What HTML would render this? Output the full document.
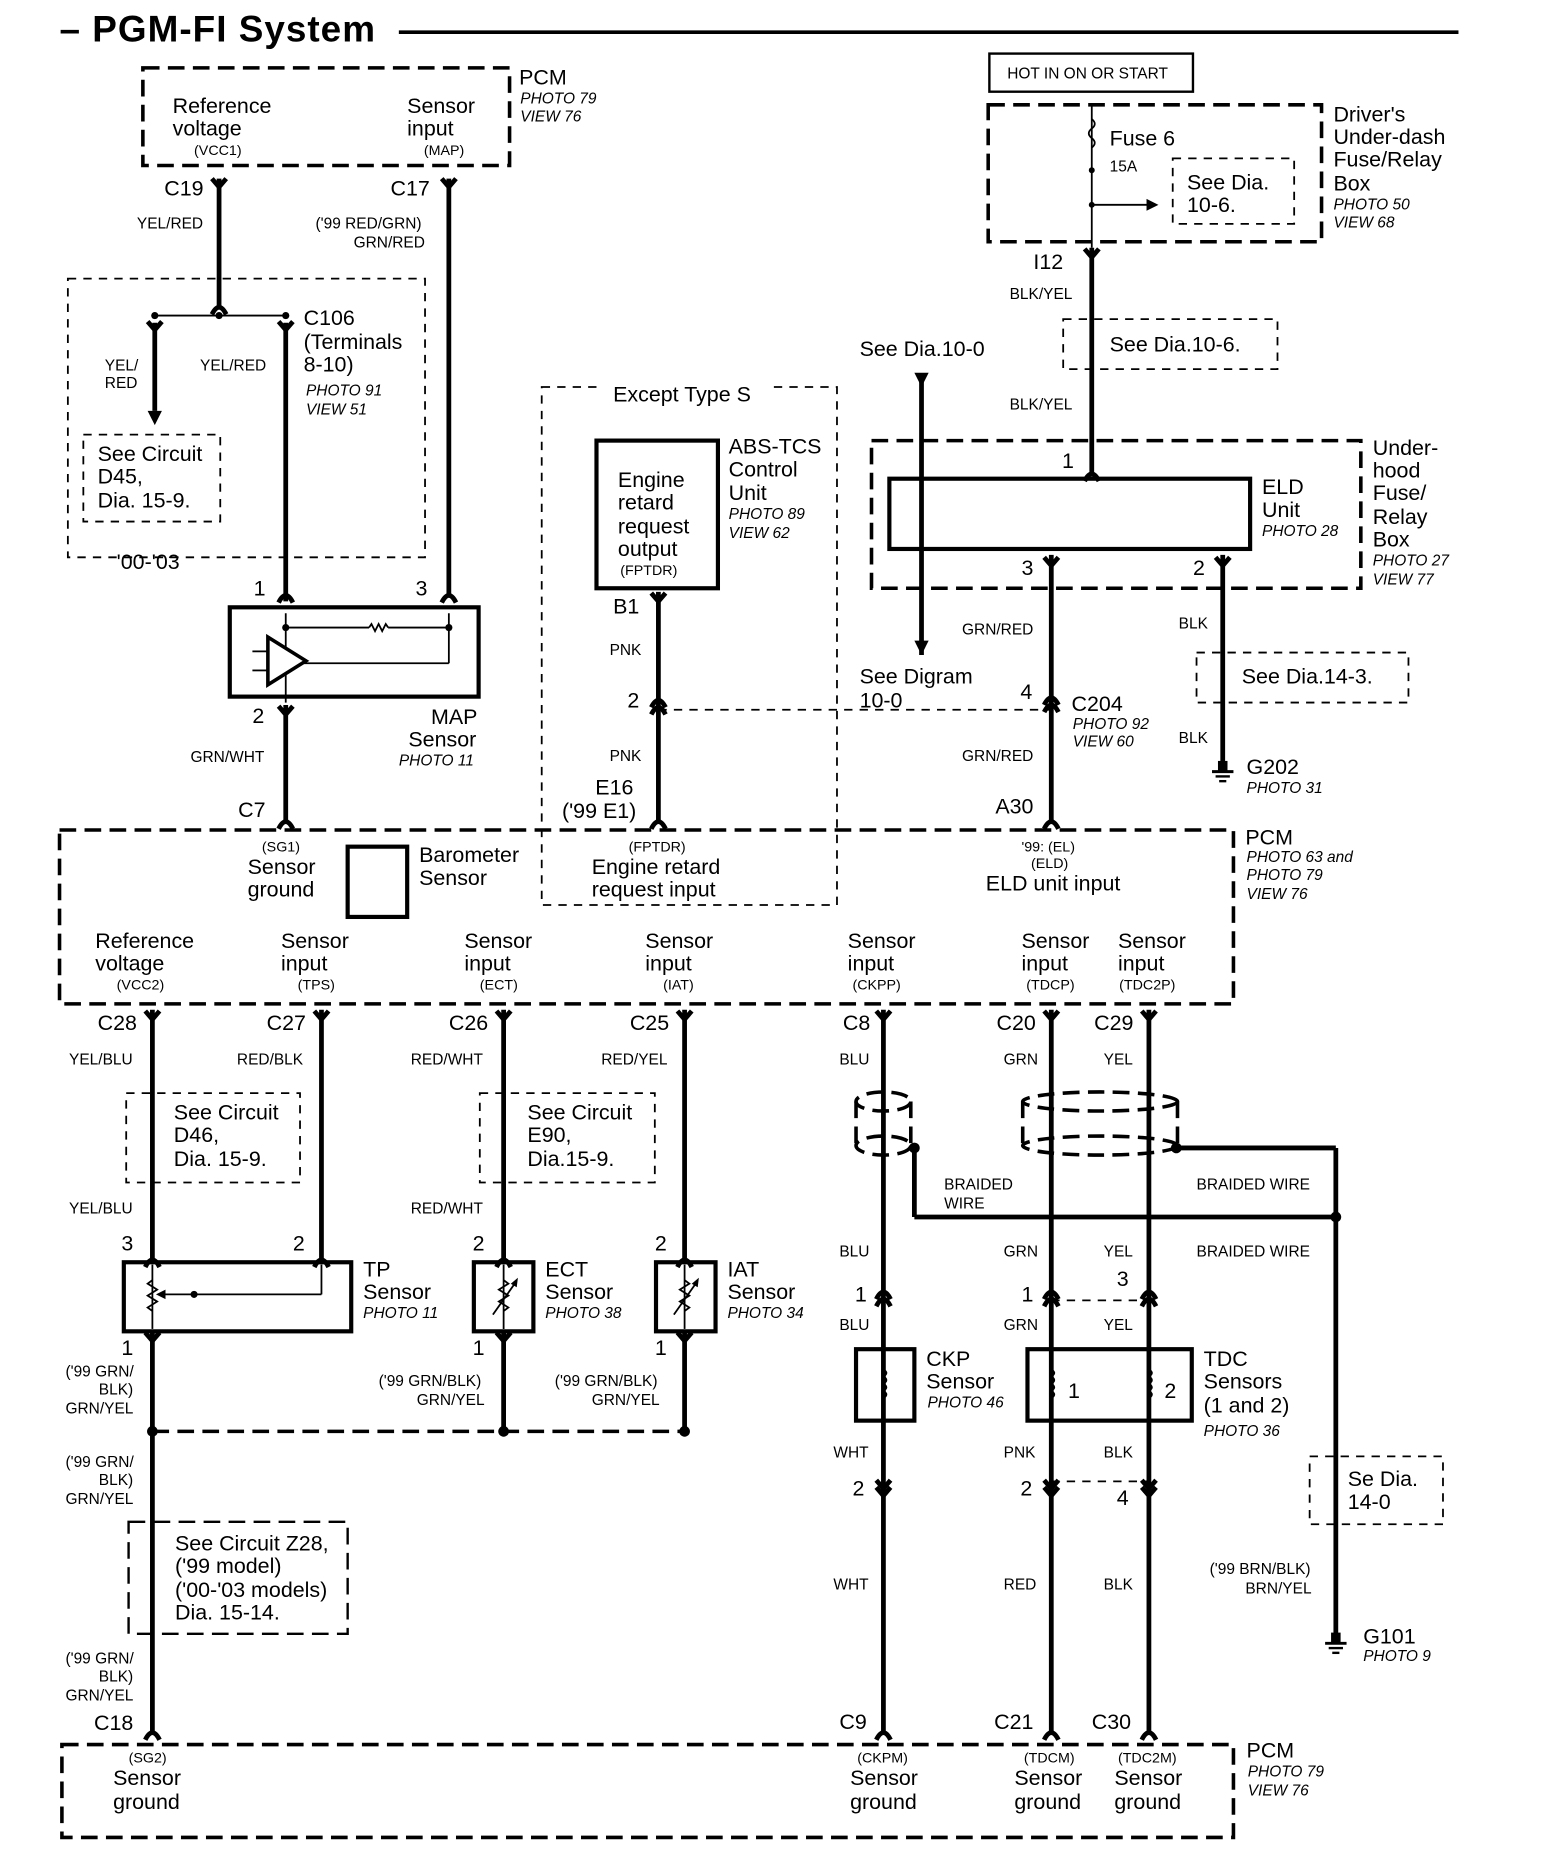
<!DOCTYPE html>
<html><head><meta charset="utf-8"><style>
html,body{margin:0;padding:0;background:#fff;width:1568px;height:1866px;overflow:hidden}
svg{display:block}
text{font-family:"Liberation Sans",Arial,sans-serif;fill:#000}
.t{font-size:18px}
.s{font-size:13px}
.xs{font-size:12px}
.i{font-size:13px;font-style:italic}
.w{stroke:#000;stroke-width:4;fill:none}
.db{stroke:#000;stroke-width:3;fill:none;stroke-dasharray:14 7}
.dt{stroke:#000;stroke-width:1.5;fill:none;stroke-dasharray:7 6}
.sb{stroke:#000;stroke-width:3.5;fill:#fff}
.th{stroke:#000;stroke-width:1.5;fill:none}
</style></head><body>
<svg id="d" width="1568" height="1866" viewBox="0 0 1317 1567" preserveAspectRatio="none" xmlns="http://www.w3.org/2000/svg">
<text x="50" y="35" style="font-size:31px;font-weight:bold" textLength="265">– PGM-FI System</text>
<line x1="335" y1="27" x2="1225" y2="27" stroke="#000" stroke-width="3"/>

<rect x="120" y="57" width="308" height="82" class="db"/>
<text class="t" x="145" y="95">Reference</text><text class="t" x="145" y="114">voltage</text><text class="xs" x="163" y="130">(VCC1)</text>
<text class="t" x="342" y="95">Sensor</text><text class="t" x="342" y="114">input</text><text class="xs" x="356" y="130">(MAP)</text>
<text class="t" x="436" y="71">PCM</text><text class="i" x="437" y="87">PHOTO 79</text><text class="i" x="437" y="102">VIEW 76</text>
<text class="t" x="138" y="164">C19</text><text class="t" x="328" y="164">C17</text>
<text class="s" x="115" y="192">YEL/RED</text>
<text class="s" x="265" y="192">('99 RED/GRN)</text><text class="s" x="297" y="208">GRN/RED</text>

<rect x="57" y="234" width="300" height="234" class="dt"/>
<text class="s" x="88" y="311">YEL/</text><text class="s" x="88" y="326">RED</text>
<text class="s" x="168" y="311">YEL/RED</text>
<text class="t" x="255" y="273">C106</text><text class="t" x="255" y="293">(Terminals</text><text class="t" x="255" y="312">8-10)</text>
<text class="i" x="257" y="332">PHOTO 91</text><text class="i" x="257" y="348">VIEW 51</text>
<rect x="70" y="365" width="115" height="73" class="dt"/>
<text class="t" x="82" y="387">See Circuit</text><text class="t" x="82" y="406">D45,</text><text class="t" x="82" y="426">Dia. 15-9.</text>
<text class="t" x="98" y="478">'00-'03</text>

<rect x="193" y="510" width="209" height="75" class="sb"/>
<text class="t" x="213" y="500">1</text><text class="t" x="349" y="500">3</text><text class="t" x="212" y="607">2</text>
<text class="t" x="362" y="608">MAP</text><text class="t" x="343" y="627">Sensor</text><text class="i" x="335" y="643">PHOTO 11</text>
<text class="s" x="160" y="640">GRN/WHT</text><text class="t" x="200" y="686">C7</text>

<rect x="455" y="325" width="248" height="435" class="dt"/>
<rect x="505" y="318" width="140" height="16" fill="#fff"/>
<text class="t" x="515" y="337">Except Type S</text>
<rect x="501" y="370" width="102" height="124" class="sb"/>
<text class="t" x="519" y="409">Engine</text><text class="t" x="519" y="428">retard</text><text class="t" x="519" y="448">request</text><text class="t" x="519" y="467">output</text><text class="xs" x="521" y="483">(FPTDR)</text>
<text class="t" x="612" y="381">ABS-TCS</text><text class="t" x="612" y="400">Control</text><text class="t" x="612" y="420">Unit</text><text class="i" x="612" y="436">PHOTO 89</text><text class="i" x="612" y="452">VIEW 62</text>
<text class="t" x="515" y="515">B1</text><text class="s" x="512" y="550">PNK</text><text class="t" x="527" y="594">2</text>
<text class="s" x="512" y="639">PNK</text><text class="t" x="500" y="667">E16</text><text class="t" x="472" y="687">('99 E1)</text>

<rect x="831" y="45" width="171" height="32" fill="none" stroke="#000" stroke-width="2"/>
<text class="s" x="846" y="66">HOT IN ON OR START</text>
<rect x="830" y="88" width="280" height="115" class="db"/>
<text class="t" x="932" y="122">Fuse 6</text><text class="s" x="932" y="144">15A</text>
<rect x="985" y="133" width="102" height="55" class="dt"/>
<text class="t" x="997" y="159">See Dia.</text><text class="t" x="997" y="178">10-6.</text>
<text class="t" x="1120" y="102">Driver's</text><text class="t" x="1120" y="121">Under-dash</text><text class="t" x="1120" y="140">Fuse/Relay</text><text class="t" x="1120" y="160">Box</text><text class="i" x="1120" y="176">PHOTO 50</text><text class="i" x="1120" y="191">VIEW 68</text>
<text class="t" x="868" y="226">I12</text><text class="s" x="848" y="251">BLK/YEL</text>
<rect x="893" y="268" width="180" height="42" class="dt"/>
<text class="t" x="932" y="295">See Dia.10-6.</text>
<text class="s" x="848" y="344">BLK/YEL</text>
<text class="t" x="722" y="299">See Dia.10-0</text>
<rect x="732" y="370" width="411" height="124" class="db"/>
<rect x="747" y="402" width="303" height="59" class="sb" fill="none"/>
<text class="t" x="892" y="393">1</text>
<text class="t" x="1060" y="415">ELD</text><text class="t" x="1060" y="434">Unit</text><text class="i" x="1060" y="450">PHOTO 28</text>
<text class="t" x="1153" y="382">Under-</text><text class="t" x="1153" y="401">hood</text><text class="t" x="1153" y="420">Fuse/</text><text class="t" x="1153" y="440">Relay</text><text class="t" x="1153" y="459">Box</text><text class="i" x="1153" y="475">PHOTO 27</text><text class="i" x="1153" y="491">VIEW 77</text>
<text class="t" x="858" y="483">3</text><text class="t" x="1002" y="483">2</text>
<text class="s" x="808" y="533">GRN/RED</text><text class="s" x="990" y="528">BLK</text>
<rect x="1005" y="548" width="178" height="42" class="dt"/>
<text class="t" x="1043" y="574">See Dia.14-3.</text>
<text class="t" x="722" y="574">See Digram</text><text class="t" x="722" y="594">10-0</text>
<text class="t" x="857" y="587">4</text><text class="t" x="900" y="597">C204</text><text class="i" x="901" y="612">PHOTO 92</text><text class="i" x="901" y="627">VIEW 60</text>
<text class="s" x="808" y="639">GRN/RED</text><text class="s" x="990" y="624">BLK</text>
<text class="t" x="1047" y="650">G202</text><text class="i" x="1047" y="666">PHOTO 31</text>
<text class="t" x="836" y="683">A30</text>

<rect x="50" y="697" width="986" height="146" class="db"/>
<rect x="292" y="711" width="50" height="59" class="sb"/>
<text class="xs" x="220" y="715">(SG1)</text><text class="t" x="208" y="734">Sensor</text><text class="t" x="208" y="753">ground</text>
<text class="t" x="352" y="724">Barometer</text><text class="t" x="352" y="743">Sensor</text>
<text class="xs" x="528" y="715">(FPTDR)</text><text class="t" x="497" y="734">Engine retard</text><text class="t" x="497" y="753">request input</text>
<text class="xs" x="858" y="715">'99: (EL)</text><text class="xs" x="866" y="729">(ELD)</text><text class="t" x="828" y="748">ELD unit input</text>
<text class="t" x="1046" y="709">PCM</text><text class="i" x="1047" y="724">PHOTO 63 and</text><text class="i" x="1047" y="739">PHOTO 79</text><text class="i" x="1047" y="755">VIEW 76</text>
<text class="t" x="80" y="796">Reference</text><text class="t" x="80" y="815">voltage</text><text class="xs" x="98" y="831">(VCC2)</text>
<text class="t" x="236" y="796">Sensor</text><text class="t" x="236" y="815">input</text><text class="xs" x="250" y="831">(TPS)</text>
<text class="t" x="390" y="796">Sensor</text><text class="t" x="390" y="815">input</text><text class="xs" x="403" y="831">(ECT)</text>
<text class="t" x="542" y="796">Sensor</text><text class="t" x="542" y="815">input</text><text class="xs" x="557" y="831">(IAT)</text>
<text class="t" x="712" y="796">Sensor</text><text class="t" x="712" y="815">input</text><text class="xs" x="716" y="831">(CKPP)</text>
<text class="t" x="858" y="796">Sensor</text><text class="t" x="858" y="815">input</text><text class="xs" x="862" y="831">(TDCP)</text>
<text class="t" x="939" y="796">Sensor</text><text class="t" x="939" y="815">input</text><text class="xs" x="940" y="831">(TDC2P)</text>

<text class="t" x="82" y="865">C28</text><text class="t" x="224" y="865">C27</text><text class="t" x="377" y="865">C26</text><text class="t" x="529" y="865">C25</text><text class="t" x="708" y="865">C8</text><text class="t" x="837" y="865">C20</text><text class="t" x="919" y="865">C29</text>
<text class="s" x="58" y="894">YEL/BLU</text><text class="s" x="199" y="894">RED/BLK</text><text class="s" x="345" y="894">RED/WHT</text><text class="s" x="505" y="894">RED/YEL</text><text class="s" x="705" y="894">BLU</text><text class="s" x="843" y="894">GRN</text><text class="s" x="927" y="894">YEL</text>
<rect x="106" y="918" width="146" height="75" class="dt"/>
<text class="t" x="146" y="940">See Circuit</text><text class="t" x="146" y="959">D46,</text><text class="t" x="146" y="979">Dia. 15-9.</text>
<rect x="403" y="918" width="147" height="75" class="dt"/>
<text class="t" x="443" y="940">See Circuit</text><text class="t" x="443" y="959">E90,</text><text class="t" x="443" y="979">Dia.15-9.</text>
<text class="s" x="58" y="1019">YEL/BLU</text><text class="s" x="345" y="1019">RED/WHT</text>

<rect x="104" y="1060" width="191" height="58" class="sb"/>
<rect x="398" y="1060" width="50" height="58" class="sb"/>
<rect x="551" y="1060" width="50" height="58" class="sb"/>
<text class="t" x="102" y="1050">3</text><text class="t" x="246" y="1050">2</text><text class="t" x="397" y="1050">2</text><text class="t" x="550" y="1050">2</text>
<text class="t" x="305" y="1072">TP</text><text class="t" x="305" y="1091">Sensor</text><text class="i" x="305" y="1107">PHOTO 11</text>
<text class="t" x="458" y="1072">ECT</text><text class="t" x="458" y="1091">Sensor</text><text class="i" x="458" y="1107">PHOTO 38</text>
<text class="t" x="611" y="1072">IAT</text><text class="t" x="611" y="1091">Sensor</text><text class="i" x="611" y="1107">PHOTO 34</text>
<text class="t" x="102" y="1138">1</text><text class="t" x="397" y="1138">1</text><text class="t" x="550" y="1138">1</text>
<text class="s" x="55" y="1156">('99 GRN/</text><text class="s" x="83" y="1171">BLK)</text><text class="s" x="55" y="1187">GRN/YEL</text>
<text class="s" x="318" y="1164">('99 GRN/BLK)</text><text class="s" x="350" y="1180">GRN/YEL</text>
<text class="s" x="466" y="1164">('99 GRN/BLK)</text><text class="s" x="497" y="1180">GRN/YEL</text>
<text class="s" x="55" y="1232">('99 GRN/</text><text class="s" x="83" y="1247">BLK)</text><text class="s" x="55" y="1263">GRN/YEL</text>
<rect x="108" y="1278" width="184" height="94" class="db" style="stroke-width:2"/>
<text class="t" x="147" y="1302">See Circuit Z28,</text><text class="t" x="147" y="1321">('99 model)</text><text class="t" x="147" y="1341">('00-'03 models)</text><text class="t" x="147" y="1360">Dia. 15-14.</text>
<text class="s" x="55" y="1397">('99 GRN/</text><text class="s" x="83" y="1412">BLK)</text><text class="s" x="55" y="1428">GRN/YEL</text>
<text class="t" x="79" y="1453">C18</text>

<text class="s" x="793" y="999">BRAIDED</text><text class="s" x="793" y="1015">WIRE</text>
<text class="s" x="1005" y="999">BRAIDED WIRE</text><text class="s" x="1005" y="1055">BRAIDED WIRE</text>
<text class="s" x="705" y="1055">BLU</text><text class="s" x="843" y="1055">GRN</text><text class="s" x="927" y="1055">YEL</text>
<text class="t" x="718" y="1093">1</text><text class="t" x="858" y="1093">1</text><text class="t" x="938" y="1080">3</text>
<text class="s" x="705" y="1117">BLU</text><text class="s" x="843" y="1117">GRN</text><text class="s" x="927" y="1117">YEL</text>
<rect x="719" y="1133" width="49" height="60" class="sb"/>
<rect x="863" y="1133" width="138" height="60" class="sb"/>
<text class="t" x="778" y="1147">CKP</text><text class="t" x="778" y="1166">Sensor</text><text class="i" x="779" y="1182">PHOTO 46</text>
<text class="t" x="897" y="1174">1</text><text class="t" x="978" y="1174">2</text>
<text class="t" x="1011" y="1147">TDC</text><text class="t" x="1011" y="1166">Sensors</text><text class="t" x="1011" y="1186">(1 and 2)</text><text class="i" x="1011" y="1206">PHOTO 36</text>
<text class="s" x="700" y="1224">WHT</text><text class="s" x="843" y="1224">PNK</text><text class="s" x="927" y="1224">BLK</text>
<text class="t" x="716" y="1256">2</text><text class="t" x="857" y="1256">2</text><text class="t" x="938" y="1264">4</text>
<rect x="1100" y="1223" width="112" height="57" class="dt"/>
<text class="t" x="1132" y="1248">Se Dia.</text><text class="t" x="1132" y="1267">14-0</text>
<text class="s" x="700" y="1335">WHT</text><text class="s" x="843" y="1335">RED</text><text class="s" x="927" y="1335">BLK</text>
<text class="s" x="1016" y="1322">('99 BRN/BLK)</text><text class="s" x="1046" y="1338">BRN/YEL</text>
<text class="t" x="1145" y="1380">G101</text><text class="i" x="1145" y="1395">PHOTO 9</text>
<text class="t" x="705" y="1452">C9</text><text class="t" x="835" y="1452">C21</text><text class="t" x="917" y="1452">C30</text>

<rect x="52" y="1465" width="984" height="78" class="db"/>
<text class="xs" x="108" y="1480">(SG2)</text><text class="t" x="95" y="1499">Sensor</text><text class="t" x="95" y="1519">ground</text>
<text class="xs" x="720" y="1480">(CKPM)</text><text class="t" x="714" y="1499">Sensor</text><text class="t" x="714" y="1519">ground</text>
<text class="xs" x="860" y="1480">(TDCM)</text><text class="t" x="852" y="1499">Sensor</text><text class="t" x="852" y="1519">ground</text>
<text class="xs" x="939" y="1480">(TDC2M)</text><text class="t" x="936" y="1499">Sensor</text><text class="t" x="936" y="1519">ground</text>
<text class="t" x="1047" y="1476">PCM</text><text class="i" x="1048" y="1492">PHOTO 79</text><text class="i" x="1048" y="1508">VIEW 76</text>
<g id="g"></g>
</svg>
<script>
var g=document.getElementById('g'),ns='http://www.w3.org/2000/svg';
function el(t,a){var e=document.createElementNS(ns,t);for(var k in a)e.setAttribute(k,a[k]);g.appendChild(e);return e;}
function W(x1,y1,x2,y2,c){el('line',{x1:x1,y1:y1,x2:x2,y2:y2,'class':c||'w'});}
function fork(x,y){el('polyline',{points:(x-6)+','+(y-7)+' '+x+','+y+' '+(x+6)+','+(y-7),'class':'w','stroke-width':3.5});}
function cap(x,y){el('path',{d:'M'+(x-6)+' '+(y+6)+' Q'+x+' '+(y-6)+' '+(x+6)+' '+(y+6),'class':'w','stroke-width':3.5});}
function dcap(x,y){cap(x,y);cap(x,y+6);}
function dfork(x,y){fork(x,y);fork(x,y+6);}
function dot(x,y,r){el('circle',{cx:x,cy:y,r:r||4.5,fill:'#000'});}
function arrD(x,y){el('polygon',{points:(x-6)+','+(y-12)+' '+(x+6)+','+(y-12)+' '+x+','+y,fill:'#000'});}
function gnd(x,y){el('line',{x1:x-9,y1:y,x2:x+9,y2:y,stroke:'#000','stroke-width':2.5});el('line',{x1:x-6,y1:y+4,x2:x+6,y2:y+4,stroke:'#000','stroke-width':2});el('line',{x1:x-3,y1:y+8,x2:x+3,y2:y+8,stroke:'#000','stroke-width':2});el('rect',{x:x-4,y:y-9,width:8,height:9,fill:'#000'});}
W(184,150,184,258);fork(184,157);cap(184,258);
W(130,265,240,265,'th');dot(130,265,3);dot(184,265,3);dot(240,265,3);
W(130,271,130,345);fork(130,277);arrD(130,357);
W(240,271,240,505);fork(240,277);cap(240,500);
W(377,150,377,500);fork(377,157);cap(377,500);
W(240,515,240,590,'th');W(240,527,310,527,'th');
el('polyline',{points:'310,527 312,524 315,530 318,524 321,530 324,524 326,527','class':'th'});
W(326,527,377,527,'th');W(377,515,377,557,'th');W(255,557,377,557,'th');dot(240,527,3);dot(377,527,3);
el('polygon',{points:'225,535 225,575 257,555',fill:'#fff',stroke:'#000','stroke-width':3});
W(212,547,225,547,'th');W(212,563,225,563,'th');
W(240,592,240,690);fork(240,600);cap(240,690);
W(553,497,553,690);fork(553,505);dcap(553,588);cap(553,690);
W(553,596,883,596,'dt');
W(917,88,917,208,'th');
el('path',{d:'M917 100 q5 4 0 8 q-5 4 0 8 q5 4 0 8','class':'th'});
W(917,172,965,172,'th');el('polygon',{points:'963,167 973,172 963,177',fill:'#000'});dot(917,172,2.5);dot(917,143,2.5);
W(917,208,917,398);fork(917,216);cap(917,398);
W(774,315,774,550);arrD(774,325);arrD(774,550);
W(883,466,883,690);fork(883,475);dcap(883,586);cap(883,690);
W(1027,466,1027,640);fork(1027,475);gnd(1027,648);
[128,270,423,575].forEach(function(x){W(x,848,x,1058);fork(x,856);cap(x,1058);});
[742,883,965].forEach(function(x){W(x,848,x,1455);fork(x,856);cap(x,1455);});
W(128,1118,128,1455);fork(128,1126);cap(128,1455);
W(423,1118,423,1202);fork(423,1126);W(575,1118,575,1202);fork(575,1126);
W(128,1202,575,1202,'db');dot(128,1202);dot(423,1202);dot(575,1202);
W(128,1062,128,1116,'th');el('polyline',{points:'128,1075 124,1078 132,1083 124,1088 132,1093 124,1098 128,1101','class':'th','fill':'#fff'});
W(135,1087,270,1087,'th');W(270,1062,270,1087,'th');dot(163,1087,3);el('polygon',{points:'131,1087 139,1083 139,1091',fill:'#000'});
[423,575].forEach(function(x){W(x,1062,x,1116,'th');el('polyline',{points:x+',1075 '+(x+4)+',1078 '+(x-4)+',1083 '+(x+4)+',1088 '+(x-4)+',1093 '+(x+4)+',1098 '+x+',1101','class':'th'});W(x-9,1104,x+10,1077,'th');el('polygon',{points:(x+12)+','+1073+' '+(x+6)+','+1078+' '+(x+11)+','+1081,fill:'#000'});});
function shield(x1,x2){var cx=(x1+x2)/2,rx=(x2-x1)/2;el('ellipse',{cx:cx,cy:925,rx:rx,ry:8,'class':'db'});el('ellipse',{cx:cx,cy:962,rx:rx,ry:8,'class':'db'});W(x1,925,x1,962,'db');W(x2,925,x2,962,'db');}
shield(719,765);shield(859,989);dot(768,964);dot(988,964);
W(768,966,768,1022);W(768,1022,1122,1022);W(988,964,1122,964);W(1122,964,1122,1372);dot(1122,1022);gnd(1122,1380);
[742,883,965].forEach(function(x){dcap(x,1085);dfork(x,1250);});
W(883,1092,965,1092,'dt');W(883,1244,965,1244,'dt');
function coil(x){W(x,1135,x,1191,'th');el('path',{d:'M'+x+' 1150 q5 3 0 6 q5 3 0 6 q5 3 0 6 q5 3 0 6','class':'th'});}
coil(742);coil(883);coil(965);
</script>
</body></html>
